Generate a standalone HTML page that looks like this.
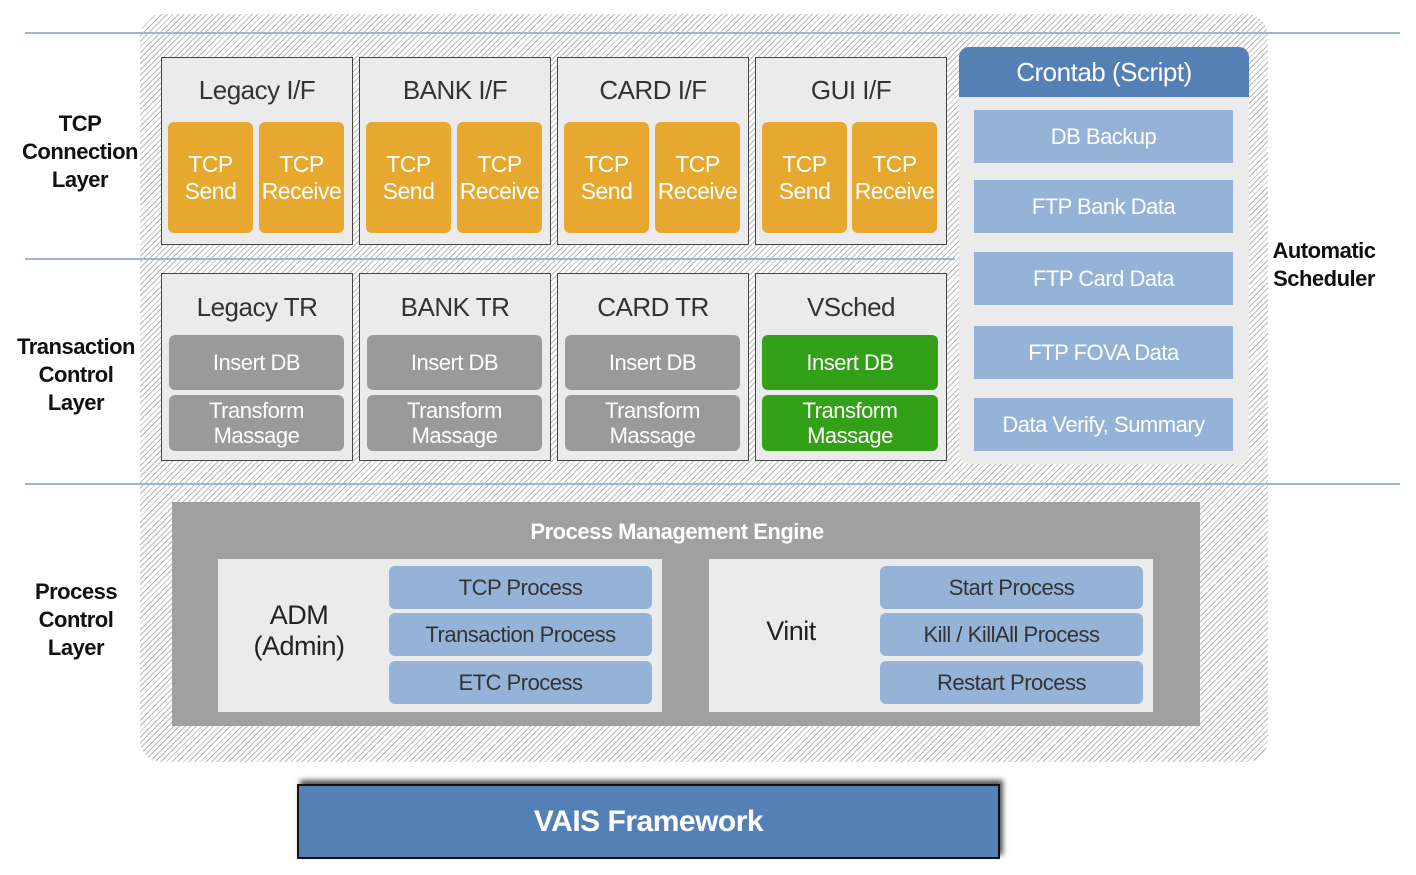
<!DOCTYPE html>
<html><head><meta charset="utf-8"><style>
*{margin:0;padding:0;box-sizing:border-box}
body{width:1416px;height:875px;background:#fff;position:relative;overflow:hidden;font-family:"Liberation Sans","Noto Sans CJK KR",sans-serif;letter-spacing:-0.5px}
.a{position:absolute}
.c{display:flex;align-items:center;justify-content:center;text-align:center}
.hatch{left:140px;top:14px;width:1128px;height:748px;border-radius:22px;background:repeating-linear-gradient(135deg,#fff 0 3px,#b8b8b8 3px 4px)}
.hl{height:2px;background:#9db6d8}
.box{background:#ebebeb;border:1.5px solid #444}
.ttl{font-size:26px;color:#333;width:100%}
.or{background:#e6a82e;color:#fff;border-radius:6px;font-size:23px;line-height:27px}
.gr{background:#9a9a9a;color:#fff;border-radius:6px;font-size:22px;line-height:25px}
.gn{background:#34a019;color:#fff;border-radius:6px;font-size:22px;line-height:25px}
.bl{background:#95b3d7;color:#fff;font-size:22px}
.pb{background:#95b3d7;color:#333;border-radius:6px;font-size:22px}
.lbl{font-weight:bold;font-size:22px;color:#111;line-height:28px;text-align:center}
</style></head><body>
<div class="a hatch"></div>
<div class="a hl" style="left:25px;top:32px;width:1375px"></div>
<div class="a hl" style="left:25px;top:258px;width:930px"></div>
<div class="a hl" style="left:25px;top:483px;width:1375px"></div>

<div class="a lbl" style="left:15px;top:110px;width:130px">TCP<br>Connection<br>Layer</div>
<div class="a lbl" style="left:10px;top:333px;width:132px">Transaction<br>Control<br>Layer</div>
<div class="a lbl" style="left:15px;top:578px;width:122px">Process<br>Control<br>Layer</div>
<div class="a lbl" style="left:1262px;top:237px;width:124px">Automatic<br>Scheduler</div>

<!-- Row 1 -->
<div class="a box" style="left:161px;top:57px;width:192px;height:188px"></div>
<div class="a box" style="left:359px;top:57px;width:192px;height:188px"></div>
<div class="a box" style="left:557px;top:57px;width:192px;height:188px"></div>
<div class="a box" style="left:755px;top:57px;width:192px;height:188px"></div>
<div class="a c ttl" style="left:161px;top:75px;width:192px">Legacy I/F</div>
<div class="a c ttl" style="left:359px;top:75px;width:192px">BANK I/F</div>
<div class="a c ttl" style="left:557px;top:75px;width:192px">CARD I/F</div>
<div class="a c ttl" style="left:755px;top:75px;width:192px">GUI I/F</div>

<div class="a c or" style="left:168px;top:122px;width:85px;height:111px">TCP<br>Send</div>
<div class="a c or" style="left:259px;top:122px;width:85px;height:111px">TCP<br>Receive</div>
<div class="a c or" style="left:366px;top:122px;width:85px;height:111px">TCP<br>Send</div>
<div class="a c or" style="left:457px;top:122px;width:85px;height:111px">TCP<br>Receive</div>
<div class="a c or" style="left:564px;top:122px;width:85px;height:111px">TCP<br>Send</div>
<div class="a c or" style="left:655px;top:122px;width:85px;height:111px">TCP<br>Receive</div>
<div class="a c or" style="left:762px;top:122px;width:85px;height:111px">TCP<br>Send</div>
<div class="a c or" style="left:852px;top:122px;width:85px;height:111px">TCP<br>Receive</div>

<!-- Row 2 -->
<div class="a box" style="left:161px;top:273px;width:192px;height:188px"></div>
<div class="a box" style="left:359px;top:273px;width:192px;height:188px"></div>
<div class="a box" style="left:557px;top:273px;width:192px;height:188px"></div>
<div class="a box" style="left:755px;top:273px;width:192px;height:188px"></div>
<div class="a c ttl" style="left:161px;top:292px;width:192px">Legacy TR</div>
<div class="a c ttl" style="left:359px;top:292px;width:192px">BANK TR</div>
<div class="a c ttl" style="left:557px;top:292px;width:192px">CARD TR</div>
<div class="a c ttl" style="left:755px;top:292px;width:192px">VSched</div>

<div class="a c gr" style="left:169px;top:335px;width:175px;height:55px">Insert DB</div>
<div class="a c gr" style="left:169px;top:395px;width:175px;height:56px">Transform<br>Massage</div>
<div class="a c gr" style="left:367px;top:335px;width:175px;height:55px">Insert DB</div>
<div class="a c gr" style="left:367px;top:395px;width:175px;height:56px">Transform<br>Massage</div>
<div class="a c gr" style="left:565px;top:335px;width:175px;height:55px">Insert DB</div>
<div class="a c gr" style="left:565px;top:395px;width:175px;height:56px">Transform<br>Massage</div>
<div class="a c gn" style="left:762px;top:335px;width:176px;height:55px">Insert DB</div>
<div class="a c gn" style="left:762px;top:395px;width:176px;height:56px">Transform<br>Massage</div>

<!-- Crontab -->
<div class="a" style="left:959px;top:47px;width:290px;height:417px;background:#ebebeb;border-radius:10px"></div>
<div class="a c" style="left:959px;top:47px;width:290px;height:50px;background:#5580b5;border-radius:10px 10px 0 0;color:#fff;font-size:26px">Crontab (Script)</div>
<div class="a c bl" style="left:974px;top:110px;width:259px;height:53px">DB Backup</div>
<div class="a c bl" style="left:974px;top:180px;width:259px;height:53px">FTP Bank Data</div>
<div class="a c bl" style="left:974px;top:252px;width:259px;height:53px">FTP Card Data</div>
<div class="a c bl" style="left:974px;top:326px;width:259px;height:53px">FTP FOVA Data</div>
<div class="a c bl" style="left:974px;top:398px;width:259px;height:53px">Data Verify, Summary</div>

<!-- Process engine -->
<div class="a" style="left:172px;top:502px;width:1028px;height:224px;background:#a0a0a0"></div>
<div class="a c" style="left:172px;top:517px;width:1010px;height:30px;color:#fff;font-weight:bold;font-size:22px">Process Management Engine</div>
<div class="a" style="left:218px;top:559px;width:444px;height:153px;background:#ebebeb"></div>
<div class="a c" style="left:228px;top:600px;width:142px;font-size:27px;color:#222;line-height:31px">ADM<br>(Admin)</div>
<div class="a c pb" style="left:389px;top:566px;width:263px;height:43px">TCP Process</div>
<div class="a c pb" style="left:389px;top:613px;width:263px;height:43px">Transaction Process</div>
<div class="a c pb" style="left:389px;top:661px;width:263px;height:43px">ETC Process</div>
<div class="a" style="left:709px;top:559px;width:444px;height:153px;background:#ebebeb"></div>
<div class="a c" style="left:720px;top:612px;width:142px;font-size:27px;color:#222;height:38px">Vinit</div>
<div class="a c pb" style="left:880px;top:566px;width:263px;height:43px">Start Process</div>
<div class="a c pb" style="left:880px;top:613px;width:263px;height:43px">Kill / KillAll Process</div>
<div class="a c pb" style="left:880px;top:661px;width:263px;height:43px">Restart Process</div>

<!-- VAIS -->
<div class="a c" style="left:297px;top:784px;width:703px;height:75px;background:#5580b5;border:2px solid #111;box-shadow:3px -4px 5px #555;color:#fff;font-weight:bold;font-size:30px">VAIS Framework</div>
</body></html>
